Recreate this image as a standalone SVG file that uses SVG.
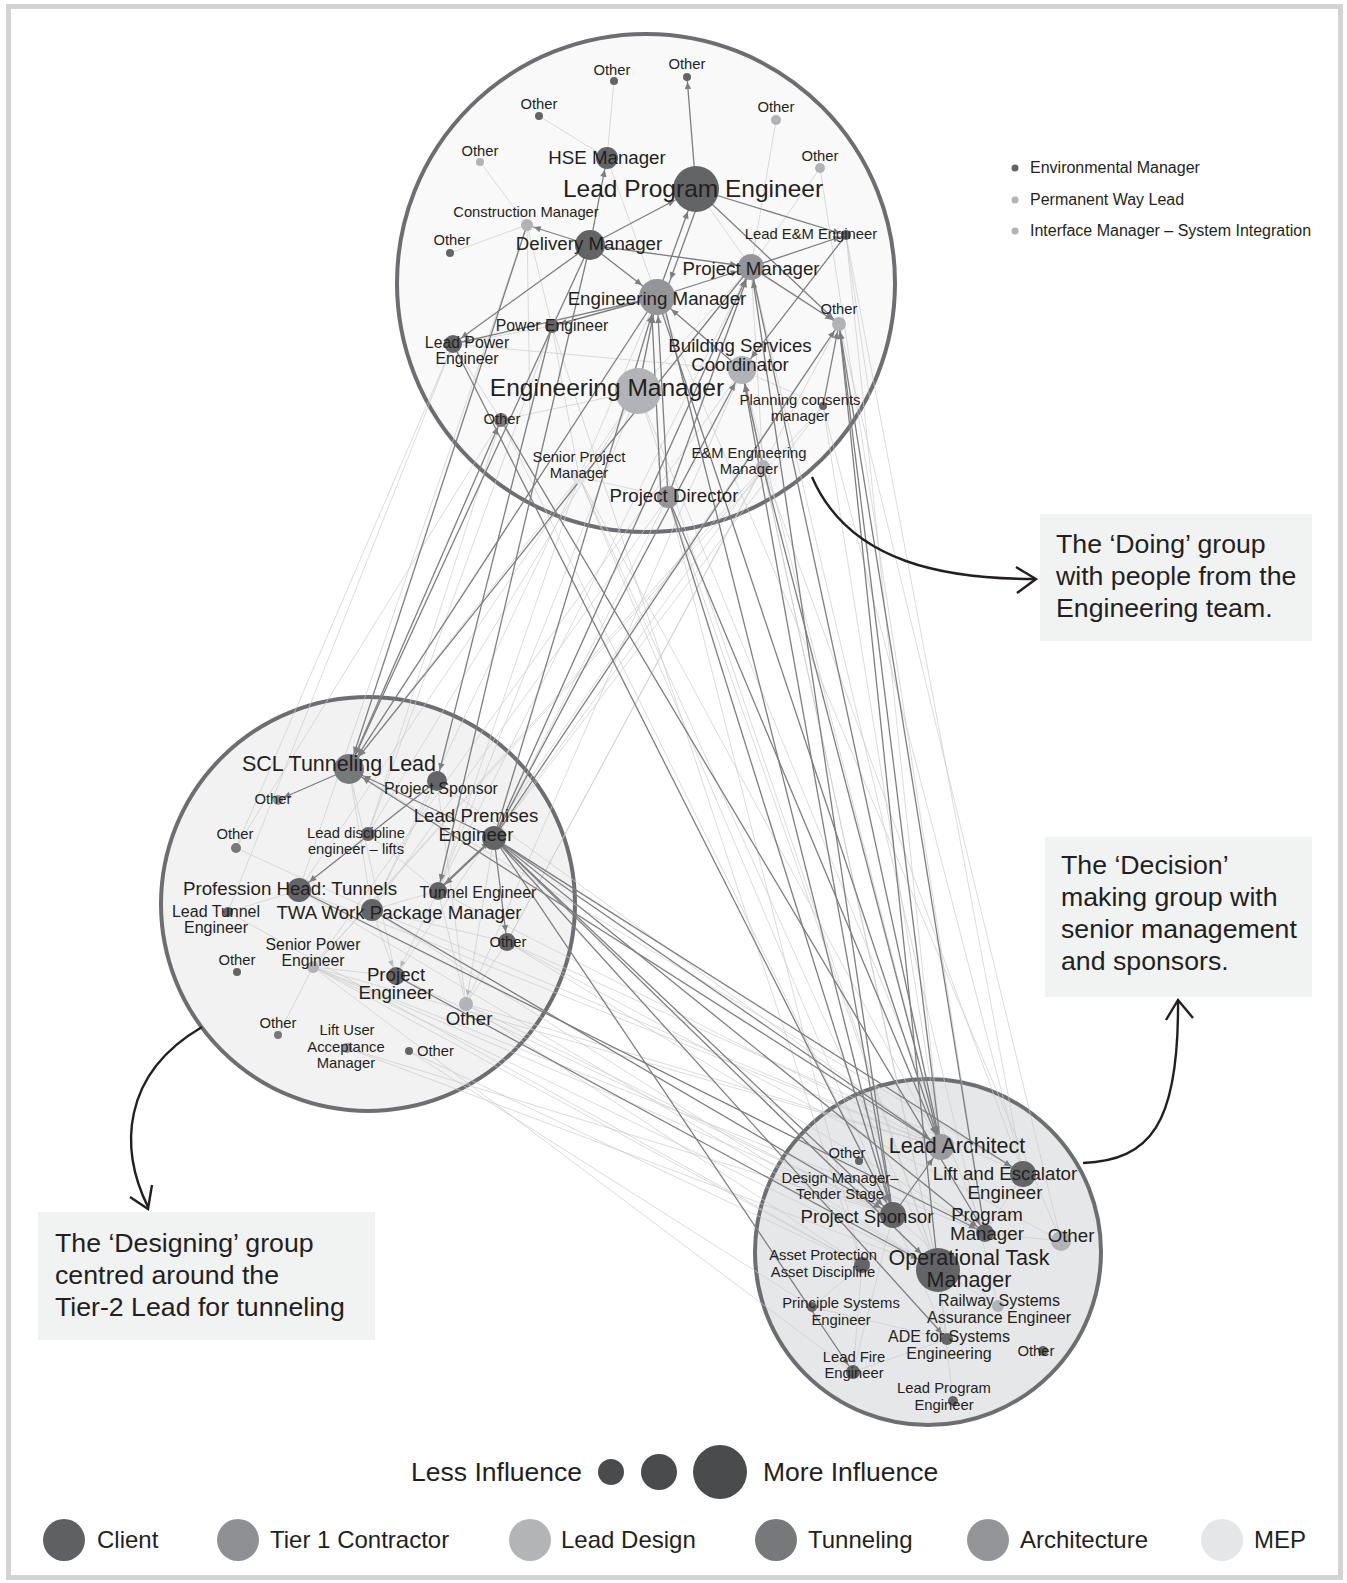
<svg xmlns="http://www.w3.org/2000/svg" width="1347" height="1583" viewBox="0 0 1347 1583">
<style>
text{font-family:"Liberation Sans",Arial,sans-serif;fill:#231f20}
.m{text-anchor:middle}
.s{font-size:14.8px}
.s2{font-size:16px}
.md{font-size:18.7px}
.lgx{font-size:21.5px}
.xl{font-size:24.5px}
.d{stroke:#7d7e81;stroke-width:1.3;fill:none}
.l{stroke:#cbcccd;stroke-width:0.7;fill:none}
.grp{stroke:#6d6e71;stroke-width:4}
.c1{fill:#636466}.c2{fill:#939598}.c3{fill:#b1b3b6}.c4{fill:#77787b}.c5{fill:#9b9c9f}.c6{fill:#e2e3e4}
.call{fill:none;stroke:#231f20;stroke-width:2.4}
.box{fill:#f1f2f2}
.bt{font-size:26.7px}
.lg{font-size:24px}
.inf{font-size:26.5px}
</style>
<defs>
<marker id="a4" markerUnits="userSpaceOnUse" orient="auto" overflow="visible"><path d="M-5,0 L-12,-3.2 L-12,3.2Z" fill="#7d7e81"/></marker>
<marker id="a5" markerUnits="userSpaceOnUse" orient="auto" overflow="visible"><path d="M-6,0 L-13,-3.2 L-13,3.2Z" fill="#7d7e81"/></marker>
<marker id="a6" markerUnits="userSpaceOnUse" orient="auto" overflow="visible"><path d="M-7,0 L-14,-3.2 L-14,3.2Z" fill="#7d7e81"/></marker>
<marker id="a7" markerUnits="userSpaceOnUse" orient="auto" overflow="visible"><path d="M-8,0 L-15,-3.2 L-15,3.2Z" fill="#7d7e81"/></marker>
<marker id="a9" markerUnits="userSpaceOnUse" orient="auto" overflow="visible"><path d="M-10,0 L-17,-3.2 L-17,3.2Z" fill="#7d7e81"/></marker>
<marker id="a10" markerUnits="userSpaceOnUse" orient="auto" overflow="visible"><path d="M-11,0 L-18,-3.2 L-18,3.2Z" fill="#7d7e81"/></marker>
<marker id="a11" markerUnits="userSpaceOnUse" orient="auto" overflow="visible"><path d="M-12,0 L-19,-3.2 L-19,3.2Z" fill="#7d7e81"/></marker>
<marker id="a12" markerUnits="userSpaceOnUse" orient="auto" overflow="visible"><path d="M-13,0 L-20,-3.2 L-20,3.2Z" fill="#7d7e81"/></marker>
<marker id="a13" markerUnits="userSpaceOnUse" orient="auto" overflow="visible"><path d="M-14,0 L-21,-3.2 L-21,3.2Z" fill="#7d7e81"/></marker>
<marker id="a14" markerUnits="userSpaceOnUse" orient="auto" overflow="visible"><path d="M-15,0 L-22,-3.2 L-22,3.2Z" fill="#7d7e81"/></marker>
<marker id="a15" markerUnits="userSpaceOnUse" orient="auto" overflow="visible"><path d="M-16,0 L-23,-3.2 L-23,3.2Z" fill="#7d7e81"/></marker>
<marker id="a18" markerUnits="userSpaceOnUse" orient="auto" overflow="visible"><path d="M-19,0 L-26,-3.2 L-26,3.2Z" fill="#7d7e81"/></marker>
<marker id="a22" markerUnits="userSpaceOnUse" orient="auto" overflow="visible"><path d="M-23,0 L-30,-3.2 L-30,3.2Z" fill="#7d7e81"/></marker>
<marker id="a23" markerUnits="userSpaceOnUse" orient="auto" overflow="visible"><path d="M-24,0 L-31,-3.2 L-31,3.2Z" fill="#7d7e81"/></marker>
<marker id="la9" markerUnits="userSpaceOnUse" orient="auto" overflow="visible"><path d="M-10,0 L-16,-2.6 L-16,2.6Z" fill="#b5b6b8"/></marker>
<marker id="la7" markerUnits="userSpaceOnUse" orient="auto" overflow="visible"><path d="M-8,0 L-14,-2.6 L-14,2.6Z" fill="#b5b6b8"/></marker>
</defs>

<rect x="8.5" y="6.5" width="1332" height="1571" fill="#ffffff" stroke="#d1d3d4" stroke-width="5"/>

<g id="groups">
<circle id="doing-group" class="grp" cx="646" cy="283" r="249" fill="#f9f9f9"/>
<circle id="designing-group" class="grp" cx="368" cy="904" r="207" fill="#f2f2f2"/>
<circle id="decision-group" class="grp" cx="928" cy="1252" r="173" fill="#e6e7e8"/>
</g>

<g id="connectors">
<!-- light edges -->
<line class="l" x1="607" y1="158" x2="614" y2="81"/>
<line class="l" x1="607" y1="158" x2="539" y2="116"/>
<line class="l" x1="527" y1="225" x2="450" y2="253"/>
<line class="l" x1="527" y1="225" x2="480" y2="162"/>
<line class="l" x1="776" y1="120" x2="751" y2="267"/>
<line class="l" x1="820" y1="168" x2="751" y2="267"/>
<line class="l" x1="696" y1="189" x2="751" y2="267"/>
<line class="l" x1="552" y1="326" x2="453" y2="344"/>
<line class="l" x1="453" y1="344" x2="742" y2="370"/>
<line class="l" x1="579" y1="477" x2="657" y2="297"/>
<line class="l" x1="579" y1="477" x2="552" y2="326"/>
<line class="l" x1="638" y1="391" x2="751" y2="267"/>
<line class="l" x1="607" y1="158" x2="657" y2="297"/>
<line class="l" x1="501" y1="420" x2="638" y2="391"/>
<line class="l" x1="823" y1="406" x2="742" y2="370"/>
<line class="l" x1="763" y1="467" x2="751" y2="267"/>
<line class="l" x1="579" y1="477" x2="668" y2="497"/>
<line class="l" x1="846" y1="235" x2="870" y2="400"/>
<line class="l" x1="527" y1="225" x2="552" y2="326"/>
<line class="l" x1="453" y1="344" x2="501" y2="420"/>
<line class="l" x1="527" y1="225" x2="530" y2="420"/>
<!-- top to bottom light -->
<line class="l" x1="579" y1="477" x2="941" y2="1147"/>
<line class="l" x1="579" y1="477" x2="893" y2="1215"/>
<line class="l" x1="579" y1="477" x2="938" y2="1270"/>
<line class="l" x1="638" y1="391" x2="938" y2="1270"/>
<line class="l" x1="638" y1="391" x2="985" y2="1233"/>
<line class="l" x1="668" y1="497" x2="938" y2="1270"/>
<line class="l" x1="668" y1="497" x2="862" y2="1265"/>
<line class="l" x1="763" y1="467" x2="938" y2="1270"/>
<line class="l" x1="763" y1="467" x2="1023" y2="1174"/>
<line class="l" x1="823" y1="406" x2="941" y2="1147"/>
<line class="l" x1="823" y1="406" x2="1023" y2="1174"/>
<line class="l" x1="742" y1="370" x2="941" y2="1147"/>
<line class="l" x1="742" y1="370" x2="938" y2="1270"/>
<line class="l" x1="839" y1="324" x2="1061" y2="1241"/>
<line class="l" x1="846" y1="235" x2="1023" y2="1174"/>
<line class="l" x1="846" y1="235" x2="941" y2="1147"/>
<line class="l" x1="820" y1="168" x2="985" y2="1233"/>
<line class="l" x1="501" y1="420" x2="893" y2="1215"/>
<line class="l" x1="552" y1="326" x2="862" y2="1265"/>
<line class="l" x1="751" y1="267" x2="998" y2="1306"/>
<line class="l" x1="657" y1="297" x2="1061" y2="1241"/>
<!-- top to left light -->
<line class="l" x1="579" y1="477" x2="349" y2="769"/>
<line class="l" x1="579" y1="477" x2="438" y2="891"/>
<line class="l" x1="579" y1="477" x2="372" y2="910"/>
<line class="l" x1="638" y1="391" x2="438" y2="891"/>
<line class="l" x1="638" y1="391" x2="299" y2="890"/>
<line class="l" x1="638" y1="391" x2="368" y2="834"/>
<line class="l" x1="668" y1="497" x2="494" y2="838"/>
<line class="l" x1="668" y1="497" x2="372" y2="910"/>
<line class="l" x1="763" y1="467" x2="494" y2="838"/>
<line class="l" x1="763" y1="467" x2="507" y2="942"/>
<line class="l" x1="823" y1="406" x2="494" y2="838"/>
<line class="l" x1="501" y1="420" x2="368" y2="834"/>
<line class="l" x1="501" y1="420" x2="236" y2="848"/>
<line class="l" x1="453" y1="344" x2="236" y2="848"/>
<line class="l" x1="453" y1="344" x2="228" y2="912"/>
<line class="l" x1="552" y1="326" x2="368" y2="834"/>
<line class="l" x1="527" y1="225" x2="299" y2="890"/>
<line class="l" x1="751" y1="267" x2="438" y2="891"/>
<line class="l" x1="742" y1="370" x2="466" y2="1004"/>
<line class="l" x1="839" y1="324" x2="507" y2="942"/>
<line class="l" x1="839" y1="324" x2="396" y2="976"/>
<line class="l" x1="742" y1="370" x2="313" y2="967"/>
<line class="l" x1="823" y1="406" x2="313" y2="967"/>
<line class="l" x1="763" y1="467" x2="313" y2="967"/>
<!-- left to bottom light -->
<line class="l" x1="313" y1="967" x2="941" y2="1147"/>
<line class="l" x1="313" y1="967" x2="893" y2="1215"/>
<line class="l" x1="313" y1="967" x2="862" y2="1265"/>
<line class="l" x1="313" y1="967" x2="938" y2="1270"/>
<line class="l" x1="313" y1="967" x2="985" y2="1233"/>
<line class="l" x1="313" y1="967" x2="853" y2="1372"/>
<line class="l" x1="347" y1="1048" x2="893" y2="1215"/>
<line class="l" x1="347" y1="1048" x2="938" y2="1270"/>
<line class="l" x1="409" y1="1051" x2="812" y2="1307"/>
<line class="l" x1="409" y1="1051" x2="862" y2="1265"/>
<line class="l" x1="299" y1="890" x2="941" y2="1147"/>
<line class="l" x1="299" y1="890" x2="938" y2="1270"/>
<line class="l" x1="372" y1="910" x2="941" y2="1147"/>
<line class="l" x1="372" y1="910" x2="938" y2="1270"/>
<line class="l" x1="466" y1="1004" x2="941" y2="1147"/>
<line class="l" x1="466" y1="1004" x2="862" y2="1265"/>
<line class="l" x1="466" y1="1004" x2="893" y2="1215"/>
<line class="l" x1="507" y1="942" x2="1023" y2="1174"/>
<line class="l" x1="507" y1="942" x2="985" y2="1233"/>
<line class="l" x1="507" y1="942" x2="1061" y2="1241"/>
<line class="l" x1="438" y1="891" x2="941" y2="1147"/>
<line class="l" x1="396" y1="976" x2="893" y2="1215"/>
<line class="l" x1="228" y1="912" x2="862" y2="1265"/>
<line class="l" x1="437" y1="781" x2="941" y2="1147"/>
<line class="l" x1="349" y1="769" x2="1023" y2="1174"/>
<!-- left internal light -->
<line class="l" x1="236" y1="848" x2="372" y2="910"/>
<line class="l" x1="228" y1="912" x2="299" y2="890"/>
<line class="l" x1="313" y1="967" x2="278" y2="1035"/>
<line class="l" x1="313" y1="967" x2="396" y2="976"/>
<line class="l" x1="372" y1="910" x2="507" y2="942"/>
<line class="l" x1="368" y1="834" x2="438" y2="891"/>
<line class="l" x1="437" y1="781" x2="372" y2="910"/>
<line class="l" x1="372" y1="910" x2="438" y2="891"/>
<line class="l" x1="349" y1="769" x2="372" y2="910"/>
<line class="l" x1="349" y1="769" x2="396" y2="976"/>
<line class="l" x1="437" y1="781" x2="466" y2="1004"/>
<line class="l" x1="507" y1="942" x2="466" y2="1004"/>
<line class="l" x1="438" y1="891" x2="466" y2="1004"/>
<line class="l" x1="372" y1="910" x2="396" y2="976" marker-end="url(#la9)"/>
<line class="l" x1="438" y1="891" x2="396" y2="976" marker-end="url(#la9)"/>
<line class="l" x1="494" y1="838" x2="466" y2="1004" marker-end="url(#la7)"/>
<!-- bottom internal light -->
<line class="l" x1="862" y1="1265" x2="853" y2="1372"/>
<line class="l" x1="862" y1="1265" x2="812" y2="1307"/>
<line class="l" x1="812" y1="1307" x2="947" y2="1339"/>
<line class="l" x1="853" y1="1372" x2="947" y2="1339"/>
<line class="l" x1="947" y1="1339" x2="893" y2="1215"/>
<line class="l" x1="998" y1="1306" x2="893" y2="1215"/>
<line class="l" x1="998" y1="1306" x2="938" y2="1270"/>
<line class="l" x1="938" y1="1270" x2="947" y2="1339"/>
<line class="l" x1="796" y1="1180" x2="893" y2="1215"/>
<line class="l" x1="859" y1="1161" x2="893" y2="1215"/>
<line class="l" x1="1023" y1="1174" x2="985" y2="1233"/>
<line class="l" x1="985" y1="1233" x2="1061" y2="1241"/>
<line class="l" x1="938" y1="1270" x2="953" y2="1401"/>
<line class="l" x1="853" y1="1372" x2="893" y2="1215"/>

<!-- dark edges, top internal -->
<line class="d" x1="696" y1="189" x2="687" y2="77" marker-end="url(#a4)"/>
<line class="d" x1="590" y1="245" x2="607" y2="158" marker-end="url(#a11)"/>
<line class="d" x1="590" y1="245" x2="696" y2="189" marker-end="url(#a23)"/>
<line class="d" x1="657" y1="297" x2="696" y2="189" marker-end="url(#a23)"/>
<line class="d" x1="703" y1="190" x2="664" y2="297" marker-end="url(#a18)"/>
<line class="d" x1="590" y1="245" x2="527" y2="225" marker-end="url(#a6)"/>
<line class="d" x1="696" y1="189" x2="846" y2="235" marker-end="url(#a5)"/>
<line class="d" x1="751" y1="267" x2="846" y2="235" marker-end="url(#a5)"/>
<line class="d" x1="590" y1="245" x2="751" y2="267" marker-end="url(#a13)"/>
<line class="d" x1="590" y1="245" x2="657" y2="297" marker-end="url(#a18)"/>
<line class="d" x1="590" y1="245" x2="453" y2="344" marker-end="url(#a9)"/>
<line class="d" x1="657" y1="297" x2="552" y2="326" marker-end="url(#a7)"/>
<line class="d" x1="657" y1="297" x2="453" y2="344" marker-end="url(#a9)"/>
<line class="d" x1="751" y1="267" x2="839" y2="324" marker-end="url(#a7)"/>
<line class="d" x1="742" y1="370" x2="657" y2="297" marker-end="url(#a18)"/>
<line class="d" x1="657" y1="297" x2="751" y2="267" marker-end="url(#a13)"/>
<line class="d" x1="696" y1="189" x2="839" y2="324" marker-end="url(#a7)"/>
<line class="d" x1="846" y1="235" x2="742" y2="370" marker-end="url(#a14)"/>
<line class="d" x1="668" y1="497" x2="657" y2="297" marker-end="url(#a18)"/>
<line class="d" x1="661" y1="497" x2="651" y2="297" marker-end="url(#a18)"/>
<line class="d" x1="668" y1="497" x2="751" y2="267" marker-end="url(#a13)"/>
<line class="d" x1="638" y1="391" x2="657" y2="297" marker-end="url(#a18)"/>
<line class="d" x1="823" y1="406" x2="839" y2="324" marker-end="url(#a7)"/>
<line class="d" x1="763" y1="467" x2="742" y2="370" marker-end="url(#a14)"/>
<!-- left internal dark -->
<line class="d" x1="349" y1="769" x2="278" y2="800" marker-end="url(#a5)"/>
<line class="d" x1="437" y1="781" x2="299" y2="890" marker-end="url(#a12)"/>
<line class="d" x1="494" y1="838" x2="438" y2="891" marker-end="url(#a9)"/>
<line class="d" x1="442" y1="886" x2="498" y2="833" marker-end="url(#a12)"/>
<line class="d" x1="494" y1="838" x2="507" y2="942" marker-end="url(#a9)"/>
<line class="d" x1="494" y1="838" x2="349" y2="769" marker-end="url(#a15)"/>
<!-- top to left dark -->
<line class="d" x1="552" y1="326" x2="437" y2="781" marker-end="url(#a10)"/>
<line class="d" x1="590" y1="245" x2="438" y2="891" marker-end="url(#a9)"/>
<line class="d" x1="527" y1="225" x2="349" y2="769" marker-end="url(#a15)"/>
<line class="d" x1="590" y1="245" x2="349" y2="769" marker-end="url(#a15)"/>
<line class="d" x1="657" y1="297" x2="349" y2="769" marker-end="url(#a15)"/>
<line class="d" x1="751" y1="267" x2="349" y2="769" marker-end="url(#a15)"/>
<line class="d" x1="349" y1="769" x2="501" y2="420" marker-end="url(#a7)"/>
<line class="d" x1="494" y1="838" x2="657" y2="297" marker-end="url(#a18)"/>
<line class="d" x1="494" y1="838" x2="751" y2="267" marker-end="url(#a13)"/>
<line class="d" x1="494" y1="838" x2="839" y2="324" marker-end="url(#a7)"/>
<line class="d" x1="494" y1="838" x2="742" y2="370" marker-end="url(#a14)"/>
<!-- top to bottom dark -->
<line class="d" x1="453" y1="344" x2="893" y2="1215" marker-end="url(#a13)"/>
<line class="d" x1="657" y1="297" x2="941" y2="1147" marker-end="url(#a13)"/>
<line class="d" x1="662" y1="297" x2="893" y2="1215" marker-end="url(#a13)"/>
<line class="d" x1="668" y1="497" x2="941" y2="1147" marker-end="url(#a13)"/>
<line class="d" x1="668" y1="497" x2="893" y2="1215" marker-end="url(#a13)"/>
<line class="d" x1="763" y1="467" x2="941" y2="1147" marker-end="url(#a13)"/>
<line class="d" x1="751" y1="267" x2="941" y2="1147" marker-end="url(#a13)"/>
<line class="d" x1="501" y1="420" x2="985" y2="1233" marker-end="url(#a9)"/>
<line class="d" x1="941" y1="1147" x2="839" y2="324" marker-end="url(#a7)"/>
<line class="d" x1="985" y1="1233" x2="839" y2="324" marker-end="url(#a7)"/>
<line class="d" x1="938" y1="1270" x2="839" y2="324" marker-end="url(#a7)"/>
<line class="d" x1="893" y1="1215" x2="751" y2="267" marker-end="url(#a13)"/>
<line class="d" x1="893" y1="1215" x2="742" y2="370" marker-end="url(#a14)"/>
<!-- left to bottom dark -->
<line class="d" x1="494" y1="838" x2="941" y2="1147" marker-end="url(#a13)"/>
<line class="d" x1="494" y1="838" x2="893" y2="1215" marker-end="url(#a13)"/>
<line class="d" x1="494" y1="838" x2="1023" y2="1174" marker-end="url(#a13)"/>
<line class="d" x1="494" y1="838" x2="985" y2="1233" marker-end="url(#a9)"/>
<line class="d" x1="494" y1="838" x2="938" y2="1270" marker-end="url(#a22)"/>
<line class="d" x1="494" y1="838" x2="853" y2="1372" marker-end="url(#a7)"/>
<line class="d" x1="494" y1="838" x2="947" y2="1339" marker-end="url(#a6)"/>
<line class="d" x1="299" y1="890" x2="985" y2="1233" marker-end="url(#a9)"/>
<line class="d" x1="396" y1="976" x2="938" y2="1270" marker-end="url(#a22)"/>
<line class="d" x1="372" y1="910" x2="893" y2="1215" marker-end="url(#a13)"/>
<line class="d" x1="941" y1="1147" x2="349" y2="769" marker-end="url(#a15)"/>
<line class="d" x1="893" y1="1215" x2="941" y2="1147" marker-end="url(#a13)"/>
</g>

<g id="nodes">
<g id="n-top-other-1"><circle class="c1" cx="614" cy="81" r="4"/><text class="m s" x="612" y="75">Other</text></g>
<g id="n-top-other-2"><circle class="c1" cx="687" cy="77" r="4"/><text class="m s" x="687" y="69">Other</text></g>
<g id="n-top-other-3"><circle class="c1" cx="539" cy="116" r="4"/><text class="m s" x="539" y="109">Other</text></g>
<g id="n-top-other-4"><circle class="c3" cx="776" cy="120" r="5"/><text class="m s" x="776" y="112">Other</text></g>
<g id="n-top-other-5"><circle class="c3" cx="480" cy="162" r="4"/><text class="m s" x="480" y="156">Other</text></g>
<g id="n-top-other-6"><circle class="c3" cx="820" cy="168" r="5"/><text class="m s" x="820" y="161">Other</text></g>
<g id="n-hse"><circle class="c1" cx="607" cy="158" r="11"/><text class="m md" x="607" y="164">HSE Manager</text></g>
<g id="n-lead-program-engineer"><circle class="c1" cx="696" cy="189" r="23"/><text class="m xl" x="693" y="197">Lead Program Engineer</text></g>
<g id="n-construction-manager"><circle class="c3" cx="527" cy="225" r="6"/><text class="m s" x="526" y="217">Construction Manager</text></g>
<g id="n-top-other-7"><circle class="c1" cx="450" cy="253" r="4"/><text class="m s" x="452" y="245">Other</text></g>
<g id="n-delivery-manager"><circle class="c1" cx="590" cy="245" r="15"/><text class="m md" x="589" y="250">Delivery Manager</text></g>
<g id="n-lead-em-engineer"><circle class="c1" cx="846" cy="235" r="5"/><text class="m s" x="811" y="239">Lead E&amp;M Engineer</text></g>
<g id="n-project-manager"><circle class="c2" cx="751" cy="267" r="13"/><text class="m md" x="751" y="275">Project Manager</text></g>
<g id="n-engineering-manager-1"><circle class="c2" cx="657" cy="297" r="18"/><text class="m md" x="657" y="305">Engineering Manager</text></g>
<g id="n-power-engineer"><circle class="c1" cx="552" cy="326" r="7"/><text class="m" x="552" y="331" font-size="15.8">Power Engineer</text></g>
<g id="n-lead-power-engineer"><circle class="c1" cx="453" cy="344" r="9"/><text class="m" x="467" y="348" font-size="15.8">Lead Power</text><text class="m" x="467" y="364" font-size="15.8">Engineer</text></g>
<g id="n-building-services"><circle class="c3" cx="742" cy="370" r="14"/><text class="m md" x="740" y="352">Building Services</text><text class="m md" x="740" y="371">Coordinator</text></g>
<g id="n-top-other-8"><circle class="c3" cx="839" cy="324" r="7"/><text class="m s" x="839" y="314">Other</text></g>
<g id="n-engineering-manager-2"><circle class="c3" cx="638" cy="391" r="23"/><text class="m xl" x="607" y="396">Engineering Manager</text></g>
<g id="n-planning-consents"><circle class="c1" cx="823" cy="406" r="4"/><text class="m s" x="800" y="405">Planning consents</text><text class="m s" x="800" y="421">manager</text></g>
<g id="n-top-other-9"><circle class="c4" cx="501" cy="420" r="7"/><text class="m s" x="502" y="424">Other</text></g>
<g id="n-senior-project-manager"><circle class="c6" cx="579" cy="477" r="7"/><text class="m s" x="579" y="462">Senior Project</text><text class="m s" x="579" y="478">Manager</text></g>
<g id="n-em-engineering-manager"><circle class="c3" cx="763" cy="467" r="7"/><text class="m s" x="749" y="458">E&amp;M Engineering</text><text class="m s" x="749" y="474">Manager</text></g>
<g id="n-project-director"><circle class="c2" cx="668" cy="497" r="11"/><text class="m md" x="674" y="502">Project Director</text></g>

<g id="n-scl-tunneling-lead"><circle class="c4" cx="349" cy="769" r="15"/><text class="m lgx" x="339" y="771">SCL Tunneling Lead</text></g>
<g id="n-left-project-sponsor"><circle class="c1" cx="437" cy="781" r="10"/><text class="m s2" x="441" y="794">Project Sponsor</text></g>
<g id="n-left-other-1"><circle class="c2" cx="278" cy="800" r="5"/><text class="m s" x="273" y="804">Other</text></g>
<g id="n-left-other-2"><circle class="c4" cx="236" cy="848" r="5"/><text class="m s" x="235" y="839">Other</text></g>
<g id="n-lead-discipline-lifts"><circle class="c1" cx="368" cy="834" r="7"/><text class="m s" x="356" y="838">Lead discipline</text><text class="m s" x="356" y="854">engineer – lifts</text></g>
<g id="n-lead-premises-engineer"><circle class="c1" cx="494" cy="838" r="12"/><text class="m md" x="476" y="822">Lead Premises</text><text class="m md" x="476" y="841">Engineer</text></g>
<g id="n-profession-head"><circle class="c1" cx="299" cy="890" r="12"/><text class="m md" x="290" y="895">Profession Head: Tunnels</text></g>
<g id="n-tunnel-engineer"><circle class="c1" cx="438" cy="891" r="9"/><text class="m s2" x="478" y="898">Tunnel Engineer</text></g>
<g id="n-lead-tunnel-engineer"><circle class="c1" cx="228" cy="912" r="5"/><text class="m s2" x="216" y="917">Lead Tunnel</text><text class="m s2" x="216" y="933">Engineer</text></g>
<g id="n-twa"><circle class="c1" cx="372" cy="910" r="11"/><text class="m md" x="399" y="919">TWA Work Package Manager</text></g>
<g id="n-left-other-3"><circle class="c1" cx="507" cy="942" r="9"/><text class="m s" x="508" y="947">Other</text></g>
<g id="n-senior-power-engineer"><circle class="c3" cx="313" cy="967" r="6"/><text class="m" x="313" y="950" font-size="15.8">Senior Power</text><text class="m" x="313" y="966" font-size="15.8">Engineer</text></g>
<g id="n-left-other-4"><circle class="c1" cx="237" cy="972" r="4"/><text class="m s" x="237" y="965">Other</text></g>
<g id="n-project-engineer"><circle class="c1" cx="396" cy="976" r="9"/><text class="m md" x="396" y="981">Project</text><text class="m md" x="396" y="999">Engineer</text></g>
<g id="n-left-other-5"><circle class="c3" cx="466" cy="1004" r="7"/><text class="m md" x="469" y="1025">Other</text></g>
<g id="n-left-other-6"><circle class="c4" cx="278" cy="1035" r="4"/><text class="m s" x="278" y="1028">Other</text></g>
<g id="n-lift-user"><circle class="c2" cx="347" cy="1048" r="5"/><text class="m s" x="347" y="1035">Lift User</text><text class="m s" x="346" y="1052">Acceptance</text><text class="m s" x="346" y="1068">Manager</text></g>
<g id="n-left-other-7"><circle class="c1" cx="409" cy="1051" r="4"/><text class="s" x="417" y="1056">Other</text></g>

<g id="n-lead-architect"><circle class="c5" cx="941" cy="1147" r="13"/><text class="m lgx" x="957" y="1153">Lead Architect</text></g>
<g id="n-bottom-other-1"><circle class="c1" cx="859" cy="1161" r="4"/><text class="m s" x="847" y="1158">Other</text></g>
<g id="n-lift-escalator"><circle class="c1" cx="1023" cy="1174" r="13"/><text class="m md" x="1005" y="1180">Lift and Escalator</text><text class="m md" x="1005" y="1199">Engineer</text></g>
<g id="n-design-manager"><circle class="c6" cx="796" cy="1180" r="4"/><text class="m s" x="840" y="1183">Design Manager–</text><text class="m s" x="840" y="1199">Tender Stage</text></g>
<g id="n-bottom-project-sponsor"><circle class="c1" cx="893" cy="1215" r="13"/><text class="m md" x="867" y="1223">Project Sponsor</text></g>
<g id="n-program-manager"><circle class="c1" cx="985" cy="1233" r="9"/><text class="m md" x="987" y="1221">Program</text><text class="m md" x="987" y="1240">Manager</text></g>
<g id="n-bottom-other-2"><circle class="c3" cx="1061" cy="1241" r="10"/><text class="m md" x="1071" y="1242">Other</text></g>
<g id="n-operational-task-manager"><circle class="c1" cx="938" cy="1270" r="22"/><text class="m lgx" x="969" y="1265">Operational Task</text><text class="m lgx" x="969" y="1287">Manager</text></g>
<g id="n-asset-protection"><circle class="c1" cx="862" cy="1265" r="8"/><text class="m s" x="823" y="1260">Asset Protection</text><text class="m s" x="823" y="1277">Asset Discipline</text></g>
<g id="n-principle-systems"><circle class="c1" cx="812" cy="1307" r="5"/><text class="m s" x="841" y="1308">Principle Systems</text><text class="m s" x="841" y="1325">Engineer</text></g>
<g id="n-railway-systems"><circle class="c3" cx="998" cy="1306" r="6"/><text class="m s2" x="999" y="1306">Railway Systems</text><text class="m s2" x="999" y="1323">Assurance Engineer</text></g>
<g id="n-ade-systems"><circle class="c1" cx="947" cy="1339" r="6"/><text class="m s2" x="949" y="1342">ADE for Systems</text><text class="m s2" x="949" y="1359">Engineering</text></g>
<g id="n-bottom-other-3"><circle class="c1" cx="1043" cy="1351" r="5"/><text class="m s" x="1036" y="1356">Other</text></g>
<g id="n-lead-fire-engineer"><circle class="c1" cx="853" cy="1372" r="7"/><text class="m s" x="854" y="1362">Lead Fire</text><text class="m s" x="854" y="1378">Engineer</text></g>
<g id="n-bottom-lead-program-engineer"><circle class="c1" cx="953" cy="1401" r="5"/><text class="m s" x="944" y="1393">Lead Program</text><text class="m s" x="944" y="1410">Engineer</text></g>
</g>

<g id="isolated-legend">
<circle cx="1015" cy="168" r="3.5" fill="#636466"/><text x="1030" y="173" font-size="16">Environmental Manager</text>
<circle cx="1015" cy="200" r="3.5" fill="#b1b3b6"/><text x="1030" y="205" font-size="16">Permanent Way Lead</text>
<circle cx="1015" cy="231" r="3.5" fill="#b1b3b6"/><text x="1030" y="236" font-size="16">Interface Manager – System Integration</text>
</g>

<g id="callout-doing">
<rect class="box" x="1040" y="514" width="272" height="127"/>
<text class="bt" x="1056" y="553">The ‘Doing’ group</text>
<text class="bt" x="1056" y="585">with people from the</text>
<text class="bt" x="1056" y="617">Engineering team.</text>
<path class="call" d="M812,477 C850,565 950,579 1035,579"/>
<path class="call" d="M1016,567 L1036,579 L1017,593"/>
</g>
<g id="callout-decision">
<rect class="box" x="1045" y="837" width="267" height="160"/>
<text class="bt" x="1061" y="874">The ‘Decision’</text>
<text class="bt" x="1061" y="906">making group with</text>
<text class="bt" x="1061" y="938">senior management</text>
<text class="bt" x="1061" y="970">and sponsors.</text>
<path class="call" d="M1083,1163 C1150,1160 1179,1125 1178,1001"/>
<path class="call" d="M1166,1020 L1178,1000 L1193,1018"/>
</g>
<g id="callout-designing">
<rect class="box" x="38" y="1212" width="337" height="128"/>
<text class="bt" x="55" y="1252">The ‘Designing’ group</text>
<text class="bt" x="55" y="1284">centred around the</text>
<text class="bt" x="55" y="1316">Tier-2 Lead for tunneling</text>
<path class="call" d="M202,1027 C120,1075 120,1150 148,1207"/>
<path class="call" d="M130,1197 L148,1209 L152,1185"/>
</g>

<g id="influence-legend">
<text class="inf" x="582" y="1481" text-anchor="end">Less Influence</text>
<circle cx="611" cy="1472" r="13" fill="#4a4b4d"/>
<circle cx="659" cy="1472" r="18" fill="#4a4b4d"/>
<circle cx="720" cy="1472" r="27" fill="#4a4b4d"/>
<text class="inf" x="763" y="1481">More Influence</text>
</g>
<g id="category-legend">
<circle cx="64" cy="1540" r="21" fill="#5f6062"/><text class="lg" x="97" y="1548">Client</text>
<circle cx="238" cy="1540" r="21" fill="#8f9093"/><text class="lg" x="270" y="1548">Tier 1 Contractor</text>
<circle cx="530" cy="1540" r="21" fill="#b3b4b6"/><text class="lg" x="561" y="1548">Lead Design</text>
<circle cx="776" cy="1540" r="21" fill="#77787b"/><text class="lg" x="808" y="1548">Tunneling</text>
<circle cx="988" cy="1540" r="21" fill="#949598"/><text class="lg" x="1020" y="1548">Architecture</text>
<circle cx="1222" cy="1540" r="21" fill="#e5e6e7"/><text class="lg" x="1254" y="1548">MEP</text>
</g>
</svg>
